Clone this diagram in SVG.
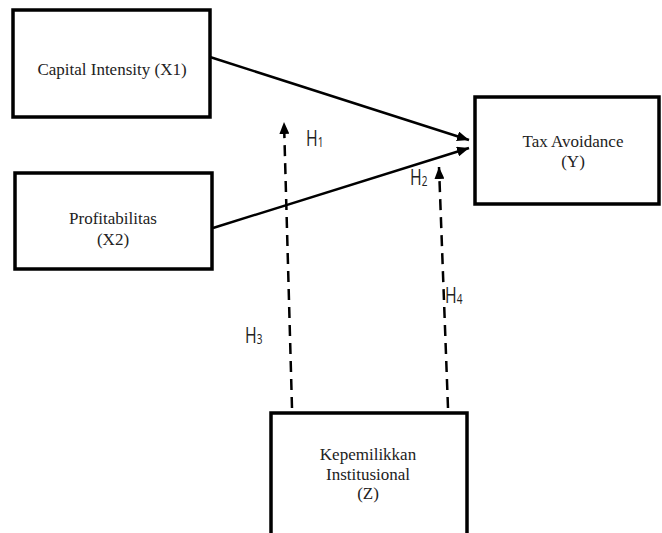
<svg xmlns="http://www.w3.org/2000/svg" width="662" height="533" viewBox="0 0 662 533">
<defs>
<marker id="ah" viewBox="0 0 12 10" refX="12" refY="5" markerWidth="12" markerHeight="10" markerUnits="userSpaceOnUse" orient="auto">
<path d="M0,0 L12,5 L0,10 z" fill="#000"/>
</marker>
</defs>
<style>
.box{fill:#fff;stroke:#000;stroke-width:3.5}
.lbl{font-family:"Liberation Serif","Times New Roman",serif;font-size:17px;fill:#222;text-anchor:middle}
.h{font-family:"Open Sans","Liberation Sans",sans-serif;font-size:22px;fill:#222}
.sub{font-size:14px}
.solid{stroke:#000;stroke-width:2.5;fill:none}
.dash{stroke:#000;stroke-width:2.5;fill:none;stroke-dasharray:11 7}
</style>
<rect width="662" height="533" fill="#fff"/>
<g id="connectors">
<line class="solid" x1="210" y1="57" x2="469" y2="140" marker-end="url(#ah)"/>
<line class="solid" x1="213" y1="228" x2="469" y2="148" marker-end="url(#ah)"/>
<line class="dash" x1="292" y1="408" x2="284" y2="122" marker-end="url(#ah)"/>
<line class="dash" x1="448" y1="408" x2="439" y2="167" marker-end="url(#ah)"/>
<text class="h" transform="translate(306,146) scale(0.72,1)">H<tspan class="sub" dy="1">1</tspan></text>
<text class="h" transform="translate(410,185) scale(0.72,1)">H<tspan class="sub" dy="1">2</tspan></text>
<text class="h" transform="translate(245,343) scale(0.72,1)">H<tspan class="sub" dy="1">3</tspan></text>
<text class="h" transform="translate(445,303) scale(0.72,1)">H<tspan class="sub" dy="1">4</tspan></text>
</g>
<g id="capital">
<rect class="box" x="13" y="10" width="197" height="107"/>
<text class="lbl" x="112" y="75">Capital Intensity (X1)</text>
</g>
<g id="profit">
<rect class="box" x="15" y="173" width="197" height="96"/>
<text class="lbl" x="113" y="224">Profitabilitas</text>
<text class="lbl" x="113" y="245">(X2)</text>
</g>
<g id="tax">
<rect class="box" x="475" y="97" width="184" height="107"/>
<text class="lbl" x="573" y="147">Tax Avoidance</text>
<text class="lbl" x="573" y="167">(Y)</text>
</g>
<g id="kepemilikan">
<rect class="box" x="271" y="413" width="196" height="125"/>
<text class="lbl" x="368" y="460">Kepemilikkan</text>
<text class="lbl" x="368" y="480">Institusional</text>
<text class="lbl" x="368" y="499">(Z)</text>
</g>
</svg>
